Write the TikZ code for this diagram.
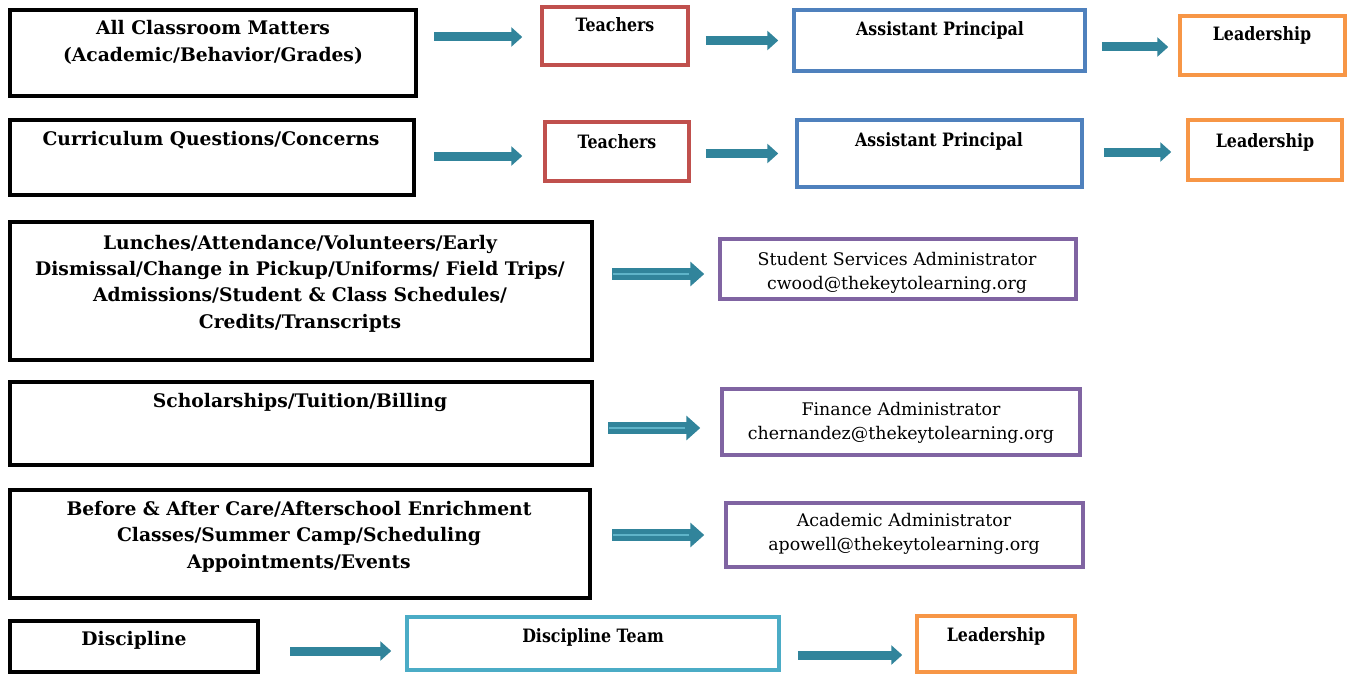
\documentclass[tikz,border=0pt]{standalone}
\usepackage{fontspec}
\setmainfont{DejaVu Serif}
\newfontfamily\rolefont{DejaVu Serif}[FakeStretch=0.86]
\usetikzlibrary{arrows.meta,fit,calc}
\definecolor{edgered}{HTML}{C0504D}
\definecolor{edgeblue}{HTML}{4F81BD}
\definecolor{edgeorange}{HTML}{F79646}
\definecolor{edgepurple}{HTML}{8064A2}
\definecolor{edgecyan}{HTML}{4BACC6}
\definecolor{arrowteal}{HTML}{31849B}
\definecolor{arrowlight}{HTML}{5FB4C9}
\begin{document}
\begin{tikzpicture}[x=1pt,y=-1pt,
  topic/.style={draw=black,line width=4.5pt,inner sep=0pt},
  owner/.style={draw=#1,line width=3.5pt,inner sep=0pt},
  heading/.style={font=\bfseries\fontsize{18.7}{26.3}\selectfont,align=center,inner sep=0pt,anchor=base},
  role/.style={font=\rolefont\bfseries\fontsize{18.4}{24}\selectfont,align=center,inner sep=0pt,anchor=base},
  contact/.style={font=\fontsize{17.4}{24}\selectfont,align=center,inner sep=0pt,anchor=base},
  flow/.style={draw=arrowteal,line width=9pt,-{Triangle[length=11pt,width=19pt]}},
  wideflow/.style={draw=arrowteal,line width=12pt,-{Triangle[length=14pt,width=24pt]}},
  stripe/.style={draw=arrowlight,line width=2.2pt}]
\useasboundingbox[fill=white] (0,0) rectangle (1348,677);

% row 1: classroom matters
\node[topic,fit={(10,10) (416,96)}] (a1) {};
\node[heading] (a1t) at (213,61) {All Classroom Matters\\(Academic/Behavior/Grades)};
\node[owner=edgered,fit={(542,7) (688,65)}] (t1) {};
\node[role] (t1t) at (615,32) {Teachers};
\node[owner=edgeblue,fit={(794,10) (1085,71)}] (p1) {};
\node[role] (p1t) at (940,36) {Assistant Principal};
\node[owner=edgeorange,fit={(1180,16) (1345,75)}] (l1) {};
\node[role] (l1t) at (1262,41) {Leadership};
\draw[flow] ($(a1.east|-t1.west)+(16,1)$) -- ($(t1.west)+(-18,1)$);
\draw[flow] ($(t1.east|-p1.west)+(16,0)$) -- ($(p1.west)+(-14,0)$);
\draw[flow] ($(p1.east|-l1.west)+(15,1.5)$) -- ($(l1.west)+(-10,1.5)$);

% row 2: curriculum
\node[topic,fit={(10,120) (414,195)}] (a2) {};
\node[heading] (a2t) at (211,145) {Curriculum Questions/Concerns};
\node[owner=edgered,fit={(545,122) (689,181)}] (t2) {};
\node[role] (t2t) at (617,148) {Teachers};
\node[owner=edgeblue,fit={(797,120) (1082,187)}] (p2) {};
\node[role] (p2t) at (939,146) {Assistant Principal};
\node[owner=edgeorange,fit={(1188,120) (1342,180)}] (l2) {};
\node[role] (l2t) at (1265,147) {Leadership};
\draw[flow] ($(a2.east|-t2.west)+(18,4.5)$) -- ($(t2.west)+(-21,4.5)$);
\draw[flow] ($(t2.east|-p2.west)+(15,0)$) -- ($(p2.west)+(-17,0)$);
\draw[flow] ($(p2.east|-l2.west)+(20,2)$) -- ($(l2.west)+(-15,2)$);

% row 3: student services
\node[topic,fit={(10,222) (592,360)}] (a3) {};
\node[heading] (a3t) at (300,328) {Lunches/Attendance/Volunteers/Early\\Dismissal/Change in Pickup/Uniforms/ Field Trips/\\Admissions/Student \& Class Schedules/\\Credits/Transcripts};
\node[owner=edgepurple,fit={(720,239) (1076,299)}] (s3) {};
\node[contact] (s3t) at (897,289) {Student Services Administrator\\cwood@thekeytolearning.org};
\draw[wideflow] ($(a3.east|-s3.west)+(18,5)$) -- ($(s3.west)+(-14,5)$);
\draw[stripe] ($(a3.east|-s3.west)+(19,5)$) -- ($(s3.west)+(-29,5)$);

% row 4: finance
\node[topic,fit={(10,382) (592,465)}] (a4) {};
\node[heading] (a4t) at (300,407) {Scholarships/Tuition/Billing};
\node[owner=edgepurple,fit={(722,389) (1080,455)}] (s4) {};
\node[contact] (s4t) at (901,439) {Finance Administrator\\chernandez@thekeytolearning.org};
\draw[wideflow] ($(a4.east|-s4.west)+(14,6)$) -- ($(s4.west)+(-20,6)$);
\draw[stripe] ($(a4.east|-s4.west)+(15,6)$) -- ($(s4.west)+(-35,6)$);

% row 5: care and enrichment
\node[topic,fit={(10,490) (590,598)}] (a5) {};
\node[heading] (a5t) at (299,568) {Before \& After Care/Afterschool Enrichment\\Classes/Summer Camp/Scheduling\\Appointments/Events};
\node[owner=edgepurple,fit={(726,503) (1083,567)}] (s5) {};
\node[contact] (s5t) at (904,550) {Academic Administrator\\apowell@thekeytolearning.org};
\draw[wideflow] ($(a5.east|-s5.west)+(20,0)$) -- ($(s5.west)+(-20,0)$);
\draw[stripe] ($(a5.east|-s5.west)+(21,0)$) -- ($(s5.west)+(-35,0)$);

% row 6: discipline
\node[topic,fit={(10,621) (258,672)}] (a6) {};
\node[heading] (a6t) at (134,645) {Discipline};
\node[owner=edgecyan,fit={(407,617) (779,670)}] (d6) {};
\node[role] (d6t) at (593,642) {Discipline Team};
\node[owner=edgeorange,fit={(917,616) (1075,672)}] (l6) {};
\node[role] (l6t) at (996,641) {Leadership};
\draw[flow] ($(a6.east|-d6.west)+(30,7.5)$) -- ($(d6.west)+(-14,7.5)$);
\draw[flow] ($(d6.east|-l6.west)+(17,11)$) -- ($(l6.west)+(-13,11)$);
\end{tikzpicture}
\end{document}
